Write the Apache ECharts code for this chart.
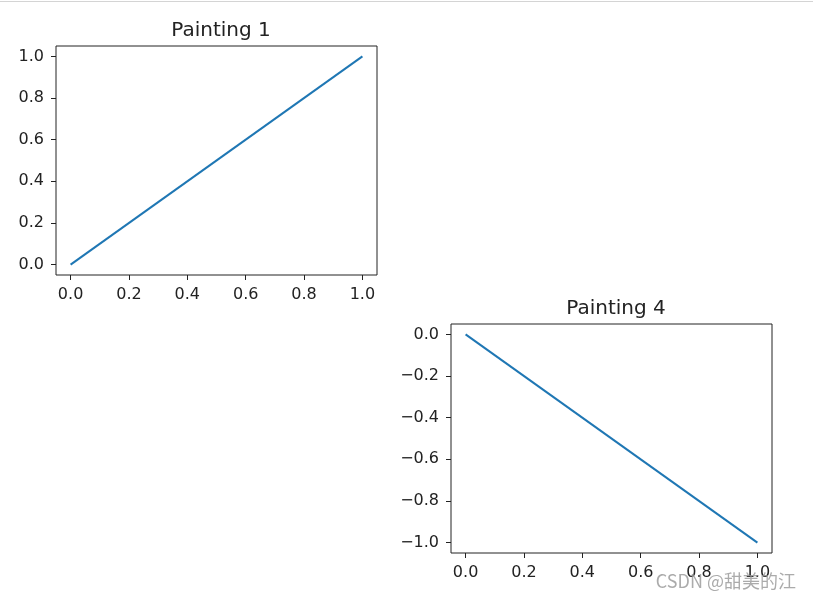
<!DOCTYPE html>
<html>
<head>
<meta charset="utf-8">
<script src="https://cdn.jsdelivr.net/npm/echarts@6/dist/echarts.min.js"></script>
<style>
  html, body { margin: 0; padding: 0; background: #fff; }
  #chart { width: 813px; height: 601px; }
</style>
</head>
<body>
<div id="chart"></div>
<script>
// data of the two subplots
const xs = [0, 1];
const ys1 = [0, 1];
const ys4 = [0, -1];
const titles = ['Painting 1', 'Painting 4'];
const xTicks = [0, 0.2, 0.4, 0.6, 0.8, 1.0];
const yTicks1 = [0, 0.2, 0.4, 0.6, 0.8, 1.0];
const yTicks4 = [-1.0, -0.8, -0.6, -0.4, -0.2, 0];

const font = 'DejaVu Sans';
const fmt = v => v.toFixed(1).replace('-', '\u2212'); // matplotlib minus sign

const pairs = (a, b) => a.map((x, i) => [x, b[i]]);

// one matplotlib-like axes box
const makeX = (gridIndex) => ({
  type: 'value', gridIndex, min: -0.05, max: 1.05,
  splitLine: { show: false },
  axisLine: { show: false, onZero: false },
  axisTick: { show: true, length: 5, customValues: xTicks, lineStyle: { color: '#222', width: 1 } },
  axisLabel: { customValues: xTicks, formatter: fmt, margin: 12, color: '#222', fontFamily: font, fontSize: 16 },
});
const makeY = (gridIndex, lo, hi, ticks) => ({
  type: 'value', gridIndex, min: lo, max: hi,
  splitLine: { show: false },
  axisLine: { show: false, onZero: false },
  axisTick: { show: true, length: 5, customValues: ticks, lineStyle: { color: '#222', width: 1 } },
  axisLabel: { customValues: ticks, formatter: fmt, margin: 12, color: '#222', fontFamily: font, fontSize: 16 },
});

const titleStyle = { fontFamily: font, fontSize: 20, fontWeight: 'normal', color: '#222' };

const option = {
  animation: false,
  backgroundColor: '#fff',
  title: [
    { text: titles[0], left: 216, top: 16, textAlign: 'center', textStyle: titleStyle },
    { text: titles[1], left: 611, top: 294, textAlign: 'center', textStyle: titleStyle },
  ],
  grid: [
    { left: 56, top: 46, width: 321, height: 229, show: true, borderColor: '#222', borderWidth: 1, containLabel: false },
    { left: 451, top: 324, width: 321, height: 229, show: true, borderColor: '#222', borderWidth: 1, containLabel: false },
  ],
  xAxis: [makeX(0), makeX(1)],
  yAxis: [makeY(0, -0.05, 1.05, yTicks1), makeY(1, -1.05, 0.05, yTicks4)],
  series: [
    { type: 'line', xAxisIndex: 0, yAxisIndex: 0, data: pairs(xs, ys1), showSymbol: false,
      lineStyle: { color: '#1f77b4', width: 2 } },
    { type: 'line', xAxisIndex: 1, yAxisIndex: 1, data: pairs(xs, ys4), showSymbol: false,
      lineStyle: { color: '#1f77b4', width: 2 } },
  ],
  graphic: [
    { type: 'rect', left: 0, top: 1, shape: { width: 813, height: 1 }, style: { fill: '#d4d4d4' }, silent: true },
    { type: 'text', right: 17, top: 572, silent: true, z: 100,
      style: { text: 'CSDN @甜美的江', fill: 'rgba(150,150,150,0.8)', fontSize: 18, fontFamily: 'Noto Sans CJK SC' } },
  ],
};

const chart = echarts.init(document.getElementById('chart'), null, { renderer: 'canvas' });
chart.setOption(option);
</script>
</body>
</html>
